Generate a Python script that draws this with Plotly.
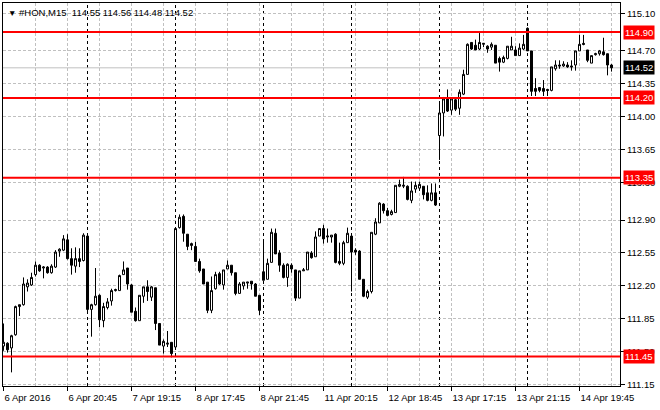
import plotly.graph_objects as go

# ---------------- data ----------------
symbol = "#HON,M15"
year = "2016"
days = ["6 Apr", "7 Apr", "8 Apr", "11 Apr", "12 Apr", "13 Apr", "14 Apr"]
session_start_min = 16 * 60 + 30   # first M15 bar of each session
bars_per_session = 22
first_day_skip = 1                  # chart begins at 6 Apr 16:45

opens = [111.56, 111.59, 111.54, 111.68, 111.98, 112.00, 112.19, 112.21, 112.32, 112.42,
         112.39, 112.40, 112.34, 112.40, 112.57, 112.58, 112.69, 112.49, 112.41, 112.49,
         112.47, 112.73, 111.95, 112.00, 112.10, 111.83, 111.97, 112.04, 112.15, 112.15,
         112.32, 112.39, 112.21, 111.93, 111.83, 112.09, 112.19, 112.08, 112.18, 111.80,
         111.56, 111.58, 111.60, 111.55, 112.82, 112.94, 112.75, 112.63, 112.62, 112.46,
         112.38, 112.24, 111.94, 112.17, 112.33, 112.21, 112.38, 112.42, 112.34, 112.12,
         112.20, 112.23, 112.25, 112.22, 112.10, 112.35, 112.27, 112.45, 112.76, 112.55,
         112.42, 112.29, 112.42, 112.37, 112.07, 112.36, 112.37, 112.55, 112.51, 112.73,
         112.81, 112.72, 112.72, 112.75, 112.46, 112.44, 112.66, 112.73, 112.58, 112.57,
         112.27, 112.08, 112.14, 112.75, 112.87, 113.07, 113.00, 112.96, 112.98, 113.26,
         113.26, 113.26, 113.11, 113.23, 113.24, 113.26, 113.19, 113.11, 113.19, 113.80,
         114.04, 114.19, 114.07, 114.18, 114.09, 114.24, 114.45, 114.79, 114.76, 114.72,
         114.77, 114.75, 114.74, 114.76, 114.62, 114.58, 114.62, 114.71, 114.71, 114.65,
         114.72, 114.94, 114.70, 114.30, 114.31, 114.30, 114.29, 114.28, 114.51, 114.55,
         114.54, 114.55, 114.54, 114.55, 114.70, 114.78, 114.71, 114.57, 114.66, 114.67,
         114.69, 114.67, 114.55]
highs = [111.80, 111.60, 111.68, 111.99, 112.00, 112.29, 112.27, 112.34, 112.46, 112.43,
         112.41, 112.41, 112.43, 112.58, 112.60, 112.74, 112.75, 112.60, 112.61, 112.60,
         112.76, 112.74, 112.01, 112.39, 112.11, 112.02, 112.07, 112.17, 112.17, 112.32,
         112.46, 112.39, 112.22, 111.97, 112.10, 112.19, 112.26, 112.20, 112.18, 111.80,
         111.63, 111.72, 111.60, 112.81, 112.96, 112.96, 112.75, 112.66, 112.67, 112.49,
         112.38, 112.24, 112.30, 112.35, 112.35, 112.37, 112.47, 112.42, 112.34, 112.24,
         112.24, 112.24, 112.25, 112.23, 112.10, 112.69, 112.49, 112.81, 112.81, 112.58,
         112.44, 112.44, 112.44, 112.37, 112.36, 112.39, 112.56, 112.57, 112.78, 112.81,
         112.85, 112.81, 112.74, 112.76, 112.66, 112.68, 112.82, 112.76, 112.60, 112.58,
         112.27, 112.16, 112.77, 112.92, 113.09, 113.08, 113.03, 113.01, 113.27, 113.33,
         113.36, 113.27, 113.31, 113.31, 113.31, 113.26, 113.27, 113.29, 113.29, 114.14,
         114.21, 114.29, 114.20, 114.19, 114.29, 114.50, 114.78, 114.79, 114.82, 114.89,
         114.78, 114.76, 114.79, 114.76, 114.64, 114.65, 114.75, 114.85, 114.75, 114.78,
         114.87, 114.95, 114.70, 114.41, 114.31, 114.39, 114.29, 114.53, 114.60, 114.60,
         114.59, 114.58, 114.60, 114.70, 114.87, 114.87, 114.71, 114.65, 114.68, 114.71,
         114.84, 114.67, 114.56]
lows = [111.51, 111.49, 111.28, 111.67, 111.88, 111.99, 112.14, 112.20, 112.30, 112.35,
        112.28, 112.33, 112.33, 112.39, 112.51, 112.57, 112.48, 112.32, 112.34, 112.40,
        112.46, 111.93, 111.66, 111.99, 111.76, 111.76, 111.95, 111.99, 112.14, 112.15,
        112.32, 112.16, 111.92, 111.82, 111.83, 112.02, 112.04, 112.04, 111.73, 111.57,
        111.48, 111.55, 111.44, 111.55, 112.81, 112.67, 112.58, 112.58, 112.46, 112.34,
        112.22, 111.91, 111.91, 112.16, 112.21, 112.16, 112.38, 112.31, 112.10, 112.12,
        112.16, 112.17, 112.16, 112.09, 111.89, 112.26, 112.27, 112.45, 112.54, 112.35,
        112.28, 112.19, 112.34, 112.04, 112.07, 112.36, 112.37, 112.49, 112.51, 112.73,
        112.65, 112.66, 112.66, 112.44, 112.42, 112.42, 112.66, 112.14, 112.53, 112.27,
        112.08, 112.06, 112.12, 112.74, 112.87, 112.97, 112.94, 112.95, 112.98, 113.25,
        113.24, 113.11, 113.08, 113.19, 113.21, 113.12, 113.10, 113.10, 113.05, 113.54,
        113.79, 114.05, 114.02, 114.06, 114.02, 114.23, 114.45, 114.71, 114.71, 114.71,
        114.74, 114.68, 114.71, 114.57, 114.48, 114.57, 114.61, 114.71, 114.65, 114.65,
        114.71, 114.70, 114.22, 114.22, 114.26, 114.22, 114.22, 114.27, 114.49, 114.51,
        114.53, 114.52, 114.49, 114.49, 114.70, 114.76, 114.58, 114.57, 114.65, 114.65,
        114.65, 114.44, 114.48]
closes = [111.60, 111.52, 111.67, 111.98, 112.00, 112.22, 112.23, 112.29, 112.42, 112.36,
          112.40, 112.34, 112.41, 112.56, 112.59, 112.70, 112.49, 112.42, 112.49, 112.46,
          112.74, 111.95, 112.00, 112.09, 111.84, 111.98, 112.03, 112.15, 112.16, 112.31,
          112.37, 112.22, 111.92, 111.83, 112.10, 112.19, 112.14, 112.19, 111.80, 111.57,
          111.61, 111.59, 111.48, 112.81, 112.93, 112.76, 112.62, 112.65, 112.46, 112.36,
          112.22, 111.94, 112.15, 112.32, 112.22, 112.37, 112.42, 112.34, 112.12, 112.22,
          112.24, 112.24, 112.22, 112.09, 111.94, 112.26, 112.44, 112.77, 112.54, 112.42,
          112.29, 112.43, 112.38, 112.07, 112.36, 112.37, 112.56, 112.50, 112.72, 112.81,
          112.70, 112.73, 112.74, 112.45, 112.44, 112.66, 112.76, 112.56, 112.56, 112.27,
          112.09, 112.14, 112.77, 112.88, 113.08, 113.00, 112.95, 112.99, 113.27, 113.28,
          113.27, 113.12, 113.21, 113.27, 113.28, 113.17, 113.11, 113.19, 113.06, 114.04,
          114.19, 114.06, 114.19, 114.08, 114.26, 114.45, 114.77, 114.72, 114.71, 114.79,
          114.78, 114.72, 114.77, 114.57, 114.58, 114.63, 114.75, 114.75, 114.65, 114.73,
          114.77, 114.70, 114.27, 114.27, 114.28, 114.27, 114.28, 114.53, 114.55, 114.54,
          114.56, 114.53, 114.53, 114.70, 114.77, 114.77, 114.60, 114.65, 114.67, 114.70,
          114.66, 114.55, 114.52]

levels = [114.90, 114.20, 113.35, 111.45]          # red horizontal levels
bid = 114.52                                       # current price line
price_ticks = [115.10, 114.70, 114.35, 114.00, 113.65, 113.30,
               112.90, 112.55, 112.20, 111.85, 111.50, 111.15]
label_every = 16
grid_every = 8

# ---------------- derived ----------------
times, day_idx = [], []
for d_i, d in enumerate(days):
    start = first_day_skip if d_i == 0 else 0
    for k in range(start, bars_per_session):
        m = session_start_min + 15 * k
        times.append(f"{d} {m // 60:02d}:{m % 60:02d}")
        day_idx.append(d_i)

n = len(opens)
x = list(range(n))
tick_pos = list(range(0, n, label_every))
tick_txt = [f"{days[0]} {year}" if p == 0 else times[p] for p in tick_pos]
minor_pos = list(range(0, n, grid_every))
day_starts = [i for i in range(1, n) if day_idx[i] != day_idx[i - 1]]

GRID = "#C0C0C0"
FONT = "Arial"
FS = 9.5

fig = go.Figure(go.Candlestick(
    x=x, open=opens, high=highs, low=lows, close=closes,
    increasing=dict(line=dict(color="black", width=1), fillcolor="white"),
    decreasing=dict(line=dict(color="black", width=1), fillcolor="black"),
    whiskerwidth=0, showlegend=False, hoverinfo="skip",
))

shapes = []
for d in day_starts:
    shapes.append(dict(type="line", xref="x", yref="paper", x0=d, x1=d, y0=0, y1=1,
                       line=dict(color="black", width=1, dash="3px,3px"), layer="below"))
shapes.append(dict(type="line", xref="paper", yref="y", x0=0, x1=1, y0=bid, y1=bid,
                   line=dict(color=GRID, width=1), layer="below"))
for lv in levels:
    shapes.append(dict(type="line", xref="paper", yref="y", x0=0, x1=1, y0=lv, y1=lv,
                       line=dict(color="#FF0000", width=2), layer="above"))

annotations = []
for lv in levels:
    annotations.append(dict(xref="paper", yref="y", x=1, y=lv, xanchor="left", yanchor="middle",
                            xshift=3, text=f"{lv:.2f}", showarrow=False, bgcolor="#FF0000",
                            borderpad=1, font=dict(color="white", size=FS, family=FONT)))
annotations.append(dict(xref="paper", yref="y", x=1, y=bid, xanchor="left", yanchor="middle",
                        xshift=3, text=f"{bid:.2f}", showarrow=False, bgcolor="black",
                        borderpad=1, font=dict(color="white", size=FS, family=FONT)))
title_txt = (f"<span style='font-size:8.5px'>▼</span> {symbol}\u00a0 "
             f"{opens[-1]:.2f}\u00a0{highs[-1]:.2f}\u00a0{lows[-1]:.2f}\u00a0{closes[-1]:.2f}")
annotations.append(dict(xref="paper", yref="paper", x=0, y=1, xanchor="left", yanchor="top",
                        xshift=3, yshift=-2, text=title_txt, showarrow=False,
                        font=dict(color="black", size=FS, family=FONT)))

fig.update_layout(
    width=660, height=410,
    margin=dict(l=3, r=40, t=3, b=24, autoexpand=False),
    paper_bgcolor="white", plot_bgcolor="white",
    showlegend=False,
    boxgap=0.2929, boxgroupgap=0.2929,
    font=dict(family=FONT, size=FS, color="black"),
    shapes=shapes, annotations=annotations,
    xaxis=dict(
        range=[-0.125, 154.125], rangeslider=dict(visible=False), automargin=False,
        tickmode="array", tickvals=tick_pos, ticktext=tick_txt,
        ticks="outside", ticklen=4, tickcolor="black",
        ticklabelposition="outside right", ticklabelstandoff=3,
        tickfont=dict(family=FONT, size=FS, color="black"),
        showline=True, linecolor="black", linewidth=1, mirror=True,
        showgrid=True, gridcolor=GRID, griddash="3px,2px", gridwidth=1,
        minor=dict(tickvals=minor_pos, showgrid=True, gridcolor=GRID, griddash="3px,2px", ticks=""),
        zeroline=False,
    ),
    yaxis=dict(
        side="right", range=[111.135, 115.2096], automargin=False,
        tickmode="array", tickvals=price_ticks, ticktext=[f"{v:.2f}" for v in price_ticks],
        ticks="outside", ticklen=4, tickcolor="black",
        tickfont=dict(family=FONT, size=FS, color="black"),
        showline=True, linecolor="black", linewidth=1, mirror=True,
        showgrid=True, gridcolor=GRID, griddash="3px,2px", gridwidth=1,
        zeroline=False,
    ),
)

fig.write_html(
    "out.html",
    config={"staticPlot": True},
    post_script="document.body.style.margin='0px';document.body.style.padding='0px';",
)
